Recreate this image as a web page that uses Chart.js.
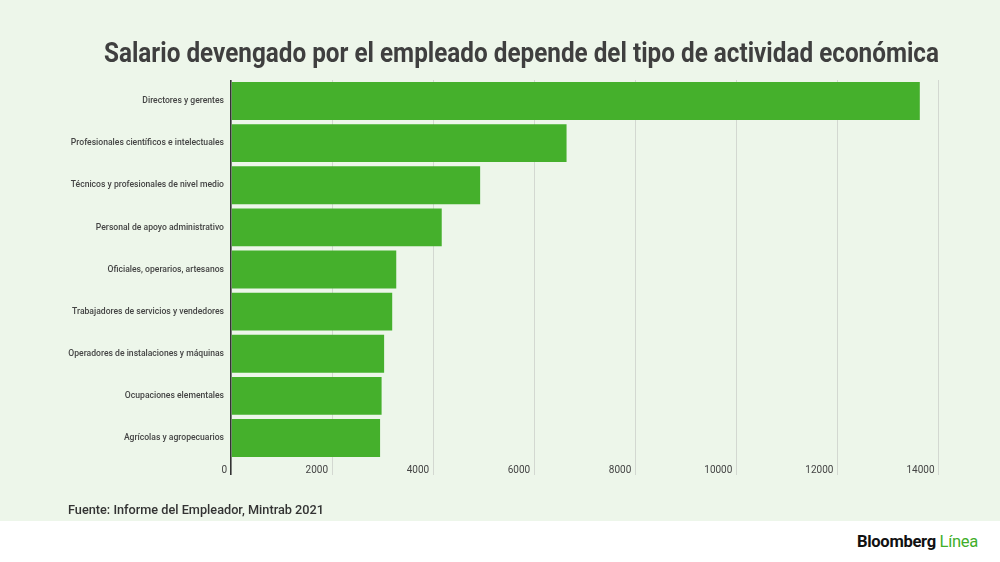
<!DOCTYPE html>
<html lang="es">
<head>
    <meta charset="UTF-8">
    <title>Salario devengado por tipo de actividad</title>
    <style>
        html, body {
            margin: 0;
            padding: 0;
            width: 1000px;
            height: 562px;
            overflow: hidden;
            background: #ffffff;
            font-family: Roboto, 'Noto Sans', sans-serif;
        }
        .panel {
            position: absolute;
            left: 0;
            top: 0;
            width: 1000px;
            height: 521px;
            background: #edf6ea;
        }
        .chart-box {
            position: absolute;
            left: 0;
            top: 0;
            width: 1000px;
            height: 521px;
        }
        .title {
            position: absolute;
            left: 104px;
            top: 36px;
            margin: 0;
            font-size: 27px;
            font-weight: 700;
            color: #3f3f3f;
            white-space: nowrap;
            transform-origin: left top;
            line-height: 34px;
        }
        .source {
            position: absolute;
            left: 68px;
            top: 502px;
            font-size: 13px;
            font-weight: 500;
            color: #333;
            white-space: nowrap;
            transform-origin: left top;
            line-height: 16px;
        }
        .brand {
            position: absolute;
            left: 857px;
            top: 532px;
            font-size: 16px;
            font-weight: 700;
            color: #111;
            white-space: nowrap;
            transform-origin: left top;
            line-height: 19px;
            letter-spacing: -0.3px;
        }
        .brand span { color: #3fae2a; font-weight: 400; }
    </style>
    <script src="https://cdn.jsdelivr.net/npm/chart.js"></script>
</head>
<body>
    <div class="panel"></div>
    <div class="chart-box">
        <canvas id="salary-chart"></canvas>
    </div>
    <h1 class="title" id="title">Salario devengado por el empleado depende del tipo de actividad económica</h1>
    <div class="source" id="source">Fuente: Informe del Empleador, Mintrab 2021</div>
    <div class="brand" id="brand">Bloomberg <span>Línea</span></div>

    <script>
        // Categories and values
        const categories = [
            'Directores y gerentes',
            'Profesionales científicos e intelectuales',
            'Técnicos y profesionales de nivel medio',
            'Personal de apoyo administrativo',
            'Oficiales, operarios, artesanos',
            'Trabajadores de servicios y vendedores',
            'Operadores de instalaciones y máquinas',
            'Ocupaciones elementales',
            'Agrícolas y agropecuarios'
        ];
        const salaries = [13630, 6640, 4930, 4170, 3270, 3190, 3030, 2980, 2950];
        const tickValues = [0, 2000, 4000, 6000, 8000, 10000, 12000, 14000];

        const narrow = "'Liberation Sans Narrow', Roboto, sans-serif";

        // squeeze a text block horizontally so it spans the target width
        function fitWidth(id, target) {
            const el = document.getElementById(id);
            const w = el.getBoundingClientRect().width;
            el.style.transform = `scaleX(${target / w})`;
        }

        document.addEventListener('DOMContentLoaded', () => {
            fitWidth('title', 835);
            fitWidth('source', 256);
            fitWidth('brand', 121);

            const ctx = document.getElementById('salary-chart');
            new Chart(ctx, {
                type: 'bar',
                data: {
                    labels: categories,
                    datasets: [{
                        data: salaries,
                        backgroundColor: '#45b02c',
                        borderWidth: 0,
                        barPercentage: 0.9,
                        categoryPercentage: 1.0
                    }]
                },
                options: {
                    indexAxis: 'y',
                    responsive: true,
                    maintainAspectRatio: false,
                    animation: false,
                    layout: {
                        padding: { left: 0, right: 61.5, top: 80, bottom: 32 }
                    },
                    plugins: {
                        legend: { display: false },
                        tooltip: { enabled: false }
                    },
                    scales: {
                        x: {
                            min: 0,
                            max: 14000,
                            afterBuildTicks: (scale) => {
                                scale.ticks = tickValues.map(v => ({ value: v }));
                            },
                            afterFit: (scale) => { scale.height = 30; },
                            border: { display: false },
                            grid: {
                                color: (c) => c.index === 0 ? '#333333' : '#d3d8d1',
                                lineWidth: (c) => c.index === 0 ? 1.6 : 1,
                                tickLength: 16,
                                drawTicks: true
                            },
                            ticks: {
                                autoSkip: false,
                                maxRotation: 0,
                                align: 'end',
                                labelOffset: -4,
                                padding: -11,
                                color: '#444',
                                font: { family: narrow, size: 10 },
                                callback: (v) => String(v)
                            }
                        },
                        y: {
                            afterFit: (scale) => { scale.width = 231; },
                            border: { display: false },
                            grid: { display: false, drawTicks: false },
                            ticks: {
                                padding: 7,
                                color: '#444',
                                font: { family: 'Roboto', size: 8.6, weight: 500 }
                            }
                        }
                    }
                }
            });
        });
    </script>
</body>
</html>
